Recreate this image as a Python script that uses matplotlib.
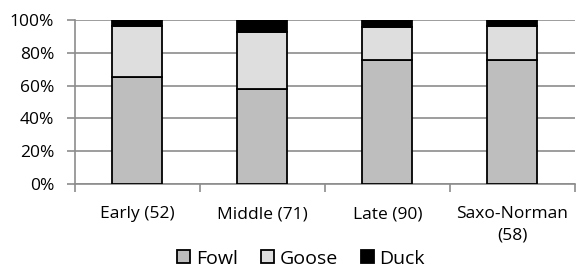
import numpy as np
import matplotlib
matplotlib.use("Agg")
from matplotlib import pyplot as plt
from matplotlib.ticker import PercentFormatter

categories = ["Early (52)", "Middle (71)", "Late (90)", "Saxo-Norman\n(58)"]
fowl = [65.4, 57.7, 75.6, 75.9]
goose = [30.8, 35.2, 20.0, 20.7]
duck = [3.8, 7.1, 4.4, 3.4]

plt.rcParams['font.family'] = ['Open Sans', 'DejaVu Sans']

fig = plt.figure(figsize=(5.76, 2.68), dpi=100)
ax = fig.add_axes([0.130, 0.3134, 0.868, 0.612])

x = np.arange(len(categories))
w = 0.4
edge = dict(edgecolor='black', linewidth=1.3, zorder=3)
ax.bar(x, fowl, w, color='#bebebe', label='Fowl', **edge)
ax.bar(x, goose, w, bottom=fowl, color='#dedede', label='Goose', **edge)
bottom2 = np.array(fowl) + np.array(goose)
ax.bar(x, duck, w, bottom=bottom2, color='black', label='Duck', **edge)

ax.set_xlim(-0.5, 3.5)
ax.set_ylim(0, 100)
ax.set_yticks(np.arange(0, 101, 20))
ax.yaxis.set_major_formatter(PercentFormatter(decimals=0))
ax.grid(axis='y', color='#8c8c8c', linewidth=1.2, zorder=0)
ax.set_axisbelow(True)

ax.set_xticks(x)
ax.set_xticklabels(categories, fontsize=12.5, linespacing=1.45)
ax.set_xticks(np.arange(-0.5, 3.6, 1), minor=True)
ax.tick_params(axis='x', which='major', length=0, pad=16)
ax.tick_params(axis='x', which='minor', length=6, color='#8c8c8c', width=1.2, direction='out')
ax.tick_params(axis='y', length=6, color='#8c8c8c', width=1.2, labelsize=12.5, pad=9)

for s in ['top', 'right']:
    ax.spines[s].set_visible(False)
for s in ['left', 'bottom']:
    ax.spines[s].set_color('#8c8c8c')
    ax.spines[s].set_linewidth(1.2)

fig.legend(loc='center', bbox_to_anchor=(0.523, 0.035), ncol=3, frameon=False,
           fontsize=14, handlelength=0.65, handleheight=0.65, handletextpad=0.3,
           columnspacing=1.2, borderpad=0)

fig.savefig("out.png", dpi=100)
